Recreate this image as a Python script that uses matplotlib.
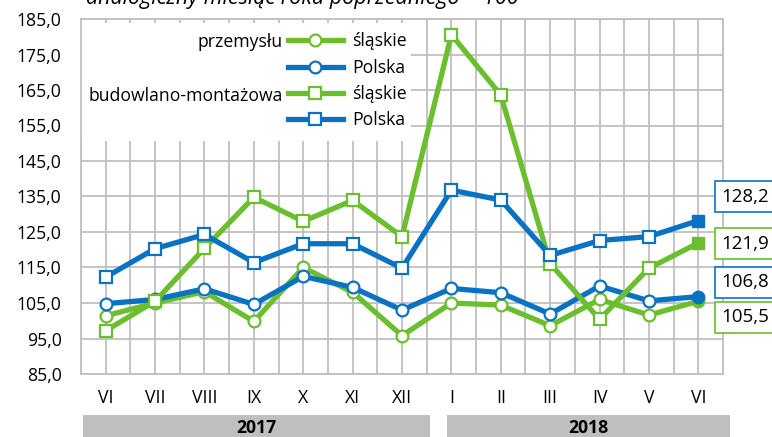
import numpy as np
import matplotlib.pyplot as plt
from matplotlib.lines import Line2D
from matplotlib.patches import Rectangle

months = ['VI', 'VII', 'VIII', 'IX', 'X', 'XI', 'XII', 'I', 'II', 'III', 'IV', 'V', 'VI']
years = ['2017', '2018']
prz_slaskie = [101.4, 105.0, 108.2, 99.8, 115.0, 108.0, 95.8, 105.0, 104.4, 98.6, 106.0, 101.6, 105.5]
prz_polska = [104.8, 106.0, 109.0, 104.6, 112.5, 109.4, 103.0, 109.1, 107.9, 101.9, 109.8, 105.6, 106.8]
bud_slaskie = [97.2, 105.5, 120.4, 134.8, 128.0, 133.9, 123.7, 180.6, 163.6, 116.1, 100.4, 114.8, 121.9]
bud_polska = [112.3, 120.3, 124.3, 116.4, 121.7, 121.7, 114.8, 136.8, 134.0, 118.4, 122.6, 123.7, 128.2]

green = '#6BBE2E'
blue = '#0A72C2'
grey = '#BFBFBF'

plt.rcParams['font.family'] = ['Open Sans', 'DejaVu Sans']
fs = 12.7

fig = plt.figure(figsize=(7.72, 4.37), dpi=100)
ax = fig.add_axes([81 / 772, 63 / 437, 642 / 772, 355 / 437])

x = np.arange(len(months))
series = [(prz_slaskie, green, 'o'), (prz_polska, blue, 'o'),
          (bud_slaskie, green, 's'), (bud_polska, blue, 's')]
for i, (vals, col, m) in enumerate(series):
    ax.plot(x, vals, color=col, lw=3.8, marker=m, ms=8.5, mfc='white', mec=col,
            mew=1.6, markevery=list(range(len(x) - 1)), zorder=3 + i)
    ax.plot(x[-1:], vals[-1:], ls='none', marker=m, ms=9, color=col, zorder=3 + i)

ax.set_xlim(-0.5, len(x) - 0.5)
ax.set_ylim(85, 185)
yt = np.arange(85, 186, 10)
ax.set_yticks(yt)
ax.set_yticklabels([f'{v:.1f}'.replace('.', ',') for v in yt], fontsize=fs)
ax.set_xticks(x)
ax.set_xticklabels(months, fontsize=fs)
ax.set_xticks(np.arange(-0.5, len(x), 1), minor=True)
ax.tick_params(axis='both', which='both', length=0)
ax.tick_params(axis='y', pad=14)
ax.tick_params(axis='x', pad=11)
ax.set_axisbelow(True)
ax.grid(True, which='both', color=grey, lw=1.3)
for s in ax.spines.values():
    s.set_color(grey)
    s.set_linewidth(1.3)

# white area behind legend
ax.add_patch(Rectangle((0, 0.656), 0.514, 0.333, transform=ax.transAxes,
                       fc='white', ec='none', zorder=1))

handles = [Line2D([], [], color=col, lw=3.8, marker=m, ms=8.5, mfc='white', mec=col, mew=1.6)
           for _, col, m in series]
leg = ax.legend(handles, ['śląskie', 'Polska', 'śląskie', 'Polska'], loc='upper left',
                bbox_to_anchor=(0.3224, 0.962), frameon=False, fontsize=fs,
                handlelength=3.1, handletextpad=0.55, labelspacing=0.47,
                borderpad=0, borderaxespad=0)
ax.text(0.3146, 0.934, 'przemysłu', transform=ax.transAxes, ha='right', va='center', fontsize=fs)
ax.text(0.3146, 0.784, 'budowlano-montażowa', transform=ax.transAxes, ha='right', va='center', fontsize=fs)

# value labels for the last month
last_labels = [(bud_polska[-1], blue, 134.9), (bud_slaskie[-1], green, 121.7),
               (prz_polska[-1], blue, 110.8), (prz_slaskie[-1], green, 101.0)]
for v, col, ypos in last_labels:
    ax.text(12.46, ypos, f'{v:.1f}'.replace('.', ','), ha='left', va='center', fontsize=13.5,
            clip_on=False, zorder=10,
            bbox=dict(boxstyle='square,pad=0.34', fc='white', ec=col, lw=1.2))

# year bars
tr = ax.get_xaxis_transform()
for (x0, x1), yr in zip([(-0.46, 6.56), (6.91, 12.64)], years):
    ax.add_patch(Rectangle((x0, -0.19), x1 - x0, 0.075, transform=tr, clip_on=False,
                           fc=grey, ec='none'))
    ax.text((x0 + x1) / 2, -0.152, yr, transform=tr, ha='center', va='center',
            fontsize=fs, fontweight='bold')

fig.text(86 / 772, 1 - 4 / 437, 'analogiczny miesiąc roku poprzedniego = 100',
         style='italic', fontsize=15.5, va='baseline', ha='left')

fig.savefig('out.png', dpi=100)
